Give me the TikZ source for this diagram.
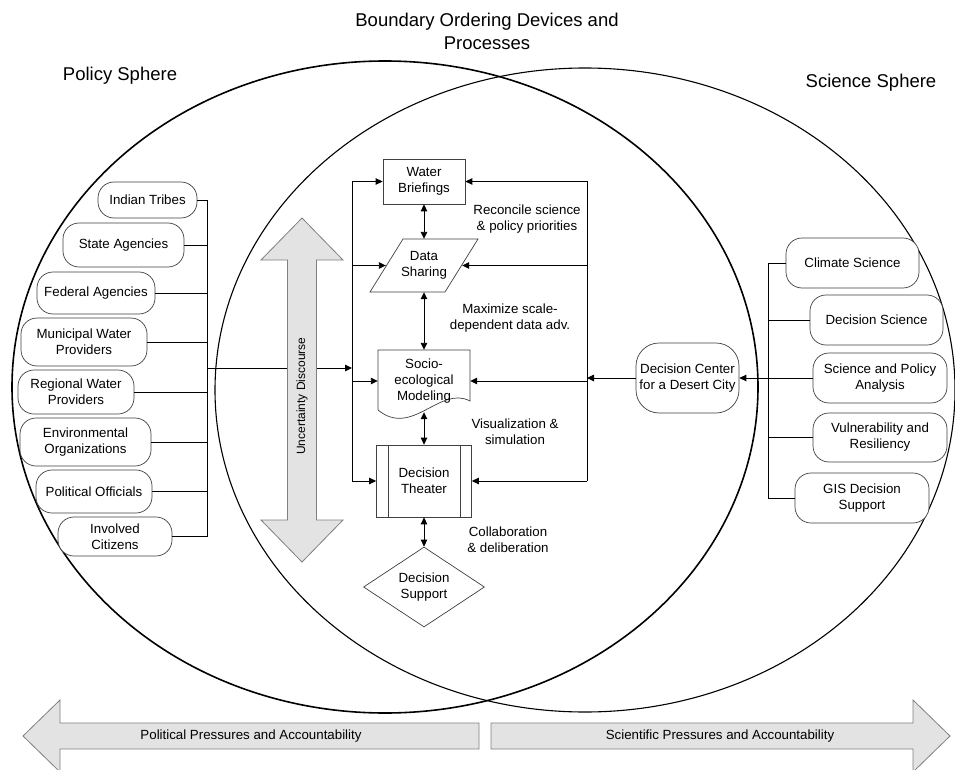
\documentclass[tikz,border=0pt]{standalone}
\usepackage{fontspec}
\setmainfont{Liberation Sans}
\usetikzlibrary{arrows.meta,shapes.geometric,calc}
\begin{document}
\begin{tikzpicture}[x=1pt,y=-1pt,
  every node/.style={font=\fontsize{13.3}{16}\selectfont, align=center, inner sep=0pt},
  pill/.style={draw=black!75, line width=0.7pt, rounded corners=16pt, fill=white},
  box/.style={draw=black!75, line width=0.7pt, fill=white},
  shapeline/.style={draw=black!75, line width=0.7pt},
  conn/.style={line width=0.9pt, black},
  arr/.style={conn, -{Triangle[length=7pt,width=6.5pt]}},
  darr/.style={conn, {Triangle[length=7pt,width=6.5pt]}-{Triangle[length=7pt,width=6.5pt]}},
  big/.style={draw=black!50, fill=black!11, line width=0.8pt},
  titlefont/.style={font=\fontsize{18.5}{23}\selectfont}
]
\useasboundingbox (0,0) rectangle (955,770);
\fill[white] (0,0) rectangle (955,770);

% spheres
\draw[line width=1.6pt] (385,387) ellipse [x radius=373pt, y radius=326pt];
\draw[line width=1.1pt] (585,390) ellipse [x radius=370pt, y radius=322pt];

% titles
\node[titlefont] (title) at (487,31) {Boundary Ordering Devices and\\Processes};
\node[titlefont] (policy) at (120,76) {Policy Sphere};
\node[titlefont] (science) at (871,83) {Science Sphere};

% policy actors
\node[pill, minimum width=99pt, minimum height=36pt] (it) at (147.5,200) {Indian Tribes};
\node[pill, minimum width=121pt, minimum height=44pt] (sa) at (123.5,245) {State Agencies};
\node[pill, minimum width=118pt, minimum height=42pt] (fa) at (96,293) {Federal Agencies};
\node[pill, minimum width=126pt, minimum height=48pt] (mw) at (84,342) {Municipal Water\\Providers};
\node[pill, minimum width=116pt, minimum height=44pt] (rw) at (76,392) {Regional Water\\Providers};
\node[pill, minimum width=131pt, minimum height=48pt] (eo) at (85.5,442) {Environmental\\Organizations};
\node[pill, minimum width=116pt, minimum height=43pt] (po) at (94,491.5) {Political Officials};
\node[pill, minimum width=114pt, minimum height=39pt] (ic) at (115,536.5) {Involved\\Citizens};

\coordinate (lbt) at (207,200);
\coordinate (lbb) at (207,536.5);
\coordinate (lbm) at (207,368);
\draw[conn] (lbt) -- (lbb);
\foreach \n in {it,sa,fa,mw,rw,eo,po,ic} \draw[conn] (\n.east) -- (\n.east -| lbt);

% central column
\coordinate (ll1) at (352,181.5);
\coordinate (ll2) at (352,481);
\coordinate (rl1) at (587,181.5);
\coordinate (rl2) at (587,481);

\node[box, minimum width=82pt, minimum height=45pt] (wb) at (424,181.5) {Water\\Briefings};
\draw[shapeline] (370,292) -- (445,292) -- (478,239) -- (403,239) -- cycle;
\node[minimum width=76pt, minimum height=53pt] (ds) at (424,265.5) {Data\\Sharing};
\draw[shapeline, fill=white] (378,350) -- (470,350) -- (470,401) .. controls (440,385) and (412,438) .. (378,410) -- cycle;
\node[minimum width=92pt, minimum height=62pt] (so) at (424,381) {Socio-\\ecological\\Modeling};
\node[box, minimum width=95pt, minimum height=72pt] (dt) at (424,481) {Decision\\Theater};
\draw[shapeline] ($(dt.north west)+(12,0)$) -- ($(dt.south west)+(12,0)$);
\draw[shapeline] ($(dt.north east)+(-12,0)$) -- ($(dt.south east)+(-12,0)$);
\node[diamond, shapeline, fill=white, shape aspect=1.5, minimum width=121pt, minimum height=80pt] (dsup) at (424,587) {Decision\\Support};

\draw[darr] (wb.south) -- (ds.north);
\draw[darr] (ds.south) -- (so.north);
\draw[darr] (so.south) -- (dt.north);
\draw[darr] (dt.south) -- (dsup.north);

\draw[conn] (ll1) -- (ll2);
\draw[conn] (rl1) -- (rl2);
\draw[arr] (ll1) -- (wb.west);
\draw[arr] (ds.west -| ll1) -- (ds.west);
\draw[arr] (so.west -| ll1) -- (so.west);
\draw[arr] (ll2) -- (dt.west);
\draw[arr] (rl1) -- (wb.east);
\draw[arr] (ds.east -| rl1) -- (ds.east);
\draw[arr] (so.east -| rl1) -- (so.east);
\draw[arr] (rl2) -- (dt.east);

\draw[arr] (lbm) -- (lbm -| ll1);

\node (l1) at (527,219) {Reconcile science\\\& policy priorities};
\node (l2) at (510,318) {Maximize scale-\\dependent data adv.};
\node (l3) at (515,432) {Visualization \&\\simulation};
\node (l4) at (508,540) {Collaboration\\\& deliberation};

% uncertainty discourse
\draw[big] (302,218) -- (343,260) -- (316.5,260) -- (316.5,520) -- (343,520) -- (302,562)
  -- (261,520) -- (287.5,520) -- (287.5,260) -- (261,260) -- cycle;
\node[rotate=90, font=\fontsize{12}{14}\selectfont] (ud) at (302,396) {Uncertainty Discourse};

% science actors
\node[pill, minimum width=133pt, minimum height=50pt] (cs) at (852.5,263) {Climate Science};
\node[pill, minimum width=133pt, minimum height=50pt] (dsc) at (876.5,320) {Decision Science};
\node[pill, minimum width=134pt, minimum height=50pt] (spa) at (880,378) {Science and Policy\\Analysis};
\node[pill, minimum width=134pt, minimum height=49pt] (vr) at (880,437.5) {Vulnerability and\\Resiliency};
\node[pill, minimum width=134pt, minimum height=50pt] (gis) at (862,498) {GIS Decision\\Support};
\node[pill, rounded corners=23pt, minimum width=103pt, minimum height=70pt] (dc) at (687.5,378) {Decision Center\\for a Desert City};

\coordinate (rbt) at (768,263);
\coordinate (rbb) at (768,498);
\draw[conn] (rbt) -- (rbb);
\foreach \n in {cs,dsc,vr,gis} \draw[conn] (\n.west) -- (\n.west -| rbt);
\draw[arr] (spa.west) -- (dc.east);
\draw[arr] (dc.west) -- (dc.west -| rl1);

% pressures
\draw[big] (23,736) -- (60,700) -- (60,723) -- (479,723) -- (479,749) -- (60,749) -- (60,772) -- cycle;
\draw[big] (950,736) -- (913,700) -- (913,723) -- (491,723) -- (491,749) -- (913,749) -- (913,772) -- cycle;
\node (pp) at (251,736) {Political Pressures and Accountability};
\node (sp) at (720,736) {Scientific Pressures and Accountability};
\end{tikzpicture}
\end{document}
